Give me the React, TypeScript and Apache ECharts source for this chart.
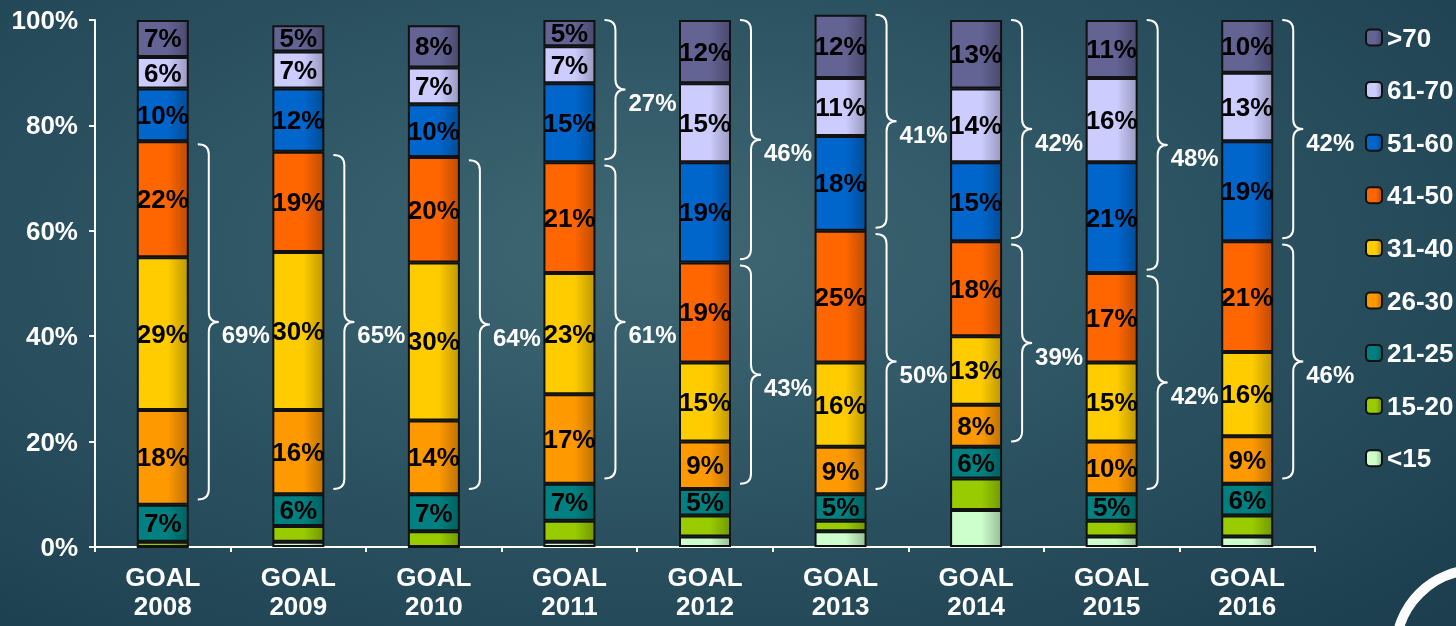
import React, { useEffect, useRef } from "react";
import * as echarts from "echarts";

const years = ["2008", "2009", "2010", "2011", "2012", "2013", "2014", "2015", "2016"];
const seriesNames = ["<15", "15-20", "21-25", "26-30", "31-40", "41-50", "51-60", "61-70", ">70"];
const seriesColors = ["#ccffcc", "#99cc00", "#008080", "#ff9900", "#ffcc00", "#ff6600", "#0066cc", "#ccccff", "#636394"];

const lt15 = [0, 1, 0, 1, 2, 3, 7, 2, 2];
const a15to20 = [1, 3, 3, 4, 4, 2, 6, 3, 4];
const a21to25 = [7, 6, 7, 7, 5, 5, 6, 5, 6];
const a26to30 = [18, 16, 14, 17, 9, 9, 8, 10, 9];
const a31to40 = [29, 30, 30, 23, 15, 16, 13, 15, 16];
const a41to50 = [22, 19, 20, 21, 19, 25, 18, 17, 21];
const a51to60 = [10, 12, 10, 15, 19, 18, 15, 21, 19];
const a61to70 = [6, 7, 7, 7, 15, 11, 14, 16, 13];
const gt70 = [7, 5, 8, 5, 12, 12, 13, 11, 10];

const braceLowLabels = ["69%", "65%", "64%", "61%", "43%", "50%", "39%", "42%", "46%"];
const braceHighLabels = [null, null, null, "27%", "46%", "41%", "42%", "48%", "42%"];

const yTicks = [0, 20, 40, 60, 80, 100];

const FONT = "'Liberation Sans', Arial, sans-serif";
const BAR_W = 52;

function shade(hex: string, f: number) {
  const n = parseInt(hex.slice(1), 16);
  let r = (n >> 16) & 255, g = (n >> 8) & 255, b = n & 255;
  if (f < 0) { r = Math.round(r * (1 + f)); g = Math.round(g * (1 + f)); b = Math.round(b * (1 + f)); }
  else { r = Math.round(r + (255 - r) * f); g = Math.round(g + (255 - g) * f); b = Math.round(b + (255 - b) * f); }
  return `rgb(${r},${g},${b})`;
}

export default function App() {
  const ref = useRef<HTMLDivElement>(null);
  useEffect(() => {
    if (!ref.current) return;
    const chart = echarts.init(ref.current, null, { renderer: "svg" });
    const allData = [lt15, a15to20, a21to25, a26to30, a31to40, a41to50, a51to60, a61to70, gt70];

    const cum = (yi: number, upto: number) => {
      let s = 0;
      for (let k = 0; k <= upto; k++) s += allData[k][yi];
      return s;
    };
    const braceItems: { idx: number; lo: number; hi: number; label: string }[] = [];
    years.forEach((_, i) => {
      braceItems.push({ idx: i, lo: cum(i, 2) + 1, hi: cum(i, 5) - 0.6, label: braceLowLabels[i] as string });
      if (braceHighLabels[i]) braceItems.push({ idx: i, lo: cum(i, 5) + 0.6, hi: cum(i, 8), label: braceHighLabels[i] as string });
    });

    const barSeries = seriesNames.map((name, si) => ({
      name,
      type: "bar",
      stack: "total",
      barWidth: BAR_W,
      clip: false,
      data: allData[si],
      itemStyle: {
        color: new echarts.graphic.LinearGradient(0, 0, 1, 0, [
          { offset: 0, color: seriesColors[si] },
          { offset: 0.6, color: seriesColors[si] },
          { offset: 1, color: shade(seriesColors[si], -0.25) },
        ]),
        borderColor: "#111",
        borderWidth: 2,
      },
      label: {
        show: si >= 2,
        position: "inside",
        formatter: (p: any) => `${Math.round(p.value)}%`,
        color: "#000",
        fontFamily: FONT,
        fontWeight: "bold",
        fontSize: 26,
      },
    }));

    const braceSeries = {
      type: "custom",
      z: 5,
      silent: true,
      data: braceItems.map((b) => [b.idx, b.lo, b.hi]),
      renderItem: (params: any, api: any) => {
        const idx = api.value(0);
        const lo = api.value(1);
        const hi = api.value(2);
        const pTop = api.coord([idx, hi]);
        const pBot = api.coord([idx, lo]);
        const xr = pTop[0] + BAR_W / 2;
        const x0 = xr + 9, x1 = xr + 20, x2 = xr + 30;
        const top = pTop[1], bot = pBot[1];
        const mid = (top + bot) / 2;
        const c = 10;
        const d = `M${x0} ${top} Q${x1} ${top} ${x1} ${top + c} L${x1} ${mid - c} Q${x1} ${mid} ${x2} ${mid} Q${x1} ${mid} ${x1} ${mid + c} L${x1} ${bot - c} Q${x1} ${bot} ${x0} ${bot}`;
        return {
          type: "group",
          children: [
            { type: "path", shape: { pathData: d }, style: { stroke: "#ffffff", fill: null, lineWidth: 2 } },
            {
              type: "text",
              style: {
                text: braceItems[params.dataIndex].label,
                x: x2 + 3,
                y: mid + 13,
                fill: "#ffffff",
                font: `bold 24px ${FONT}`,
                align: "left",
                verticalAlign: "middle",
              },
            },
          ],
        };
      },
    };

    chart.setOption({
      animation: false,
      backgroundColor: "transparent",
      grid: { left: 95, right: 141, top: 20, bottom: 79 },
      legend: {
        orient: "vertical",
        left: 1360,
        top: 18,
        itemWidth: 16,
        itemHeight: 16,
        itemGap: 23.6,
        data: [...seriesNames].reverse(),
        textStyle: { color: "#ffffff", fontFamily: FONT, fontWeight: "bold", fontSize: 26, lineHeight: 29 },
        selectedMode: false,
      },
      xAxis: {
        type: "category",
        data: years.map((y) => `GOAL\n${y}`),
        axisLine: { lineStyle: { color: "#ffffff", width: 2 } },
        axisTick: { show: true, length: 5, lineStyle: { color: "#ffffff", width: 2 } },
        axisLabel: { color: "#ffffff", fontFamily: FONT, fontWeight: "bold", fontSize: 26, lineHeight: 29, margin: 15 },
      },
      yAxis: {
        type: "value",
        min: yTicks[0],
        max: yTicks[yTicks.length - 1],
        interval: 20,
        axisLine: { show: true, lineStyle: { color: "#ffffff", width: 2 } },
        axisTick: { show: true, length: 6, lineStyle: { color: "#ffffff", width: 2 } },
        splitLine: { show: false },
        axisLabel: { color: "#ffffff", fontFamily: FONT, fontWeight: "bold", fontSize: 26, formatter: "{value}%", margin: 17 },
      },
      graphic: [
        {
          type: "arc",
          shape: { cx: 1476, cy: 650, r: 80, startAngle: Math.PI, endAngle: Math.PI * 1.5 },
          style: { stroke: "#ffffff", lineWidth: 10, fill: null },
          silent: true,
        },
      ],
      series: [...barSeries, braceSeries],
    });
    return () => chart.dispose();
  }, []);

  return (
    <div
      style={{
        position: "fixed",
        left: 0,
        top: 0,
        width: 1456,
        height: 626,
        background: "radial-gradient(ellipse at 45% 40%, #3f6773 0%, #2d5463 45%, #1b3d4d 100%)",
      }}
    >
      <div ref={ref} style={{ width: 1456, height: 626 }} />
    </div>
  );
}
